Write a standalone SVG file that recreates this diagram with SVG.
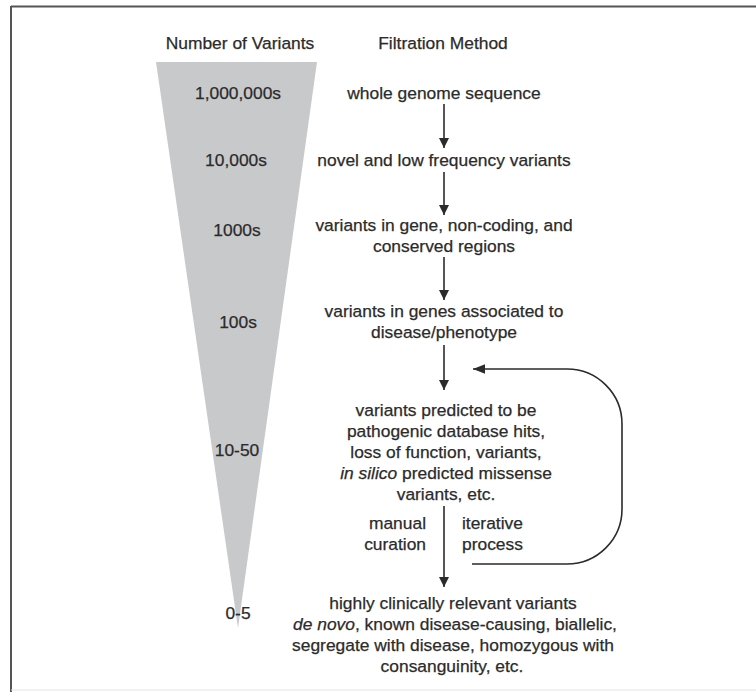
<svg xmlns="http://www.w3.org/2000/svg" width="756" height="692" viewBox="0 0 756 692">
<defs>
<style>
text{font-family:"Liberation Sans",Arial,sans-serif;font-size:17.4px;fill:#2b2b2b;stroke:#2b2b2b;stroke-width:0.25;text-anchor:middle}
.it{font-style:italic}
.conn{stroke:#2b2b2b;stroke-width:1.6;fill:none}
</style>
<marker id="ah" viewBox="0 0 10 10" refX="10" refY="5" markerWidth="10" markerHeight="10" markerUnits="userSpaceOnUse" orient="auto">
<path d="M0,0 L10,5 L0,10 z" fill="#2b2b2b"/>
</marker>
<marker id="ah2" viewBox="0 0 10 10" refX="10" refY="5" markerWidth="12" markerHeight="12" markerUnits="userSpaceOnUse" orient="auto">
<path d="M0,1 L10,5 L0,9 z" fill="#2b2b2b"/>
</marker>
</defs>
<rect width="756" height="692" fill="#ffffff"/>
<g id="frame">
<line x1="11" y1="6.5" x2="756" y2="6.5" stroke="#555" stroke-width="2"/>
<line x1="11" y1="6" x2="11" y2="692" stroke="#555" stroke-width="2"/>
<line x1="11" y1="690" x2="756" y2="690" stroke="#e4e4e4" stroke-width="1"/>
</g>
<g id="funnel">
<polygon points="156,62 317,62 238,628" fill="#c8c9cb"/>
</g>
<g id="headers">
<text x="240" y="49">Number of Variants</text>
<text x="443" y="49">Filtration Method</text>
</g>
<g id="counts">
<text x="238" y="99">1,000,000s</text>
<text x="236" y="166">10,000s</text>
<text x="237" y="236">1000s</text>
<text x="238" y="328">100s</text>
<text x="237" y="456">10-50</text>
<text x="238" y="619">0-5</text>
</g>
<g id="n1"><text x="444" y="99">whole genome sequence</text></g>
<g id="n2"><text x="444" y="166">novel and low frequency variants</text></g>
<g id="n3"><text x="444" y="231">variants in gene, non-coding, and</text><text x="444" y="252">conserved regions</text></g>
<g id="n4"><text x="444" y="317">variants in genes associated to</text><text x="444" y="338">disease/phenotype</text></g>
<g id="n5">
<text x="446" y="416">variants predicted to be</text>
<text x="446" y="437">pathogenic database hits,</text>
<text x="446" y="458">loss of function, variants,</text>
<text x="446" y="479"><tspan class="it">in silico</tspan> predicted missense</text>
<text x="446" y="500">variants, etc.</text>
</g>
<g id="n6">
<text x="453" y="609">highly clinically relevant variants</text>
<text x="455" y="630"><tspan class="it">de novo</tspan>, known disease-causing, biallelic,</text>
<text x="453" y="651">segregate with disease, homozygous with</text>
<text x="452" y="672">consanguinity, etc.</text>
</g>
<g id="labels">
<text x="426" y="529" style="text-anchor:end">manual</text>
<text x="426" y="550" style="text-anchor:end">curation</text>
<text x="462" y="529" style="text-anchor:start">iterative</text>
<text x="462" y="550" style="text-anchor:start">process</text>
</g>
<g id="connectors">
<line class="conn" x1="444" y1="104" x2="444" y2="148" marker-end="url(#ah)"/>
<line class="conn" x1="444" y1="172" x2="444" y2="215" marker-end="url(#ah)"/>
<line class="conn" x1="444" y1="257" x2="444" y2="300" marker-end="url(#ah)"/>
<line class="conn" x1="444" y1="345" x2="444" y2="390" marker-end="url(#ah)"/>
<line class="conn" x1="444" y1="506" x2="444" y2="587" marker-end="url(#ah)"/>
<path class="conn" d="M472,564 H567 A55,55 0 0 0 622,509 V424 A55,55 0 0 0 567,369 H473" marker-end="url(#ah2)"/>
</g>
</svg>
